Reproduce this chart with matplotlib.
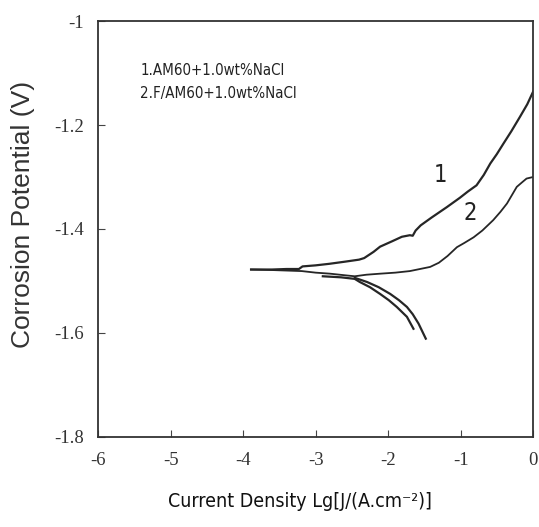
import matplotlib
matplotlib.use("Agg")
import matplotlib.pyplot as plt

plt.rcParams['axes.unicode_minus'] = False

# Data (log current density, potential in V)
# curve 1 : AM60 in 1.0 wt% NaCl
c1_anodic_x = [-3.89, -3.60, -3.40, -3.23, -3.18, -3.00, -2.81, -2.60, -2.40, -2.33,
               -2.20, -2.11, -1.95, -1.81, -1.70, -1.66, -1.62, -1.55, -1.40, -1.19,
               -1.01, -0.90, -0.78, -0.68, -0.59, -0.50, -0.41, -0.30, -0.18, -0.08, 0.00]
c1_anodic_y = [-1.478, -1.478, -1.477, -1.477, -1.472, -1.470, -1.467, -1.463, -1.459, -1.456,
               -1.444, -1.434, -1.424, -1.415, -1.412, -1.413, -1.403, -1.393, -1.378, -1.358,
               -1.340, -1.328, -1.316, -1.296, -1.274, -1.256, -1.236, -1.212, -1.184, -1.160, -1.136]
c1_cathodic_x = [-2.90, -2.65, -2.46, -2.39, -2.25, -2.11, -1.99, -1.88, -1.74, -1.65]
c1_cathodic_y = [-1.491, -1.493, -1.496, -1.502, -1.512, -1.525, -1.537, -1.550, -1.569, -1.592]

# curve 2 : F/AM60 in 1.0 wt% NaCl
c2_anodic_x = [-3.89, -3.60, -3.19, -3.00, -2.80, -2.60, -2.46, -2.30, -2.11, -1.90,
               -1.70, -1.42, -1.30, -1.18, -1.05, -0.95, -0.82, -0.70, -0.55, -0.45,
               -0.36, -0.225, -0.15, -0.09, 0.00]
c2_anodic_y = [-1.478, -1.479, -1.481, -1.484, -1.486, -1.489, -1.491, -1.488, -1.486, -1.484,
               -1.481, -1.473, -1.465, -1.452, -1.435, -1.427, -1.416, -1.403, -1.383, -1.367,
               -1.351, -1.319, -1.310, -1.303, -1.300]
c2_cathodic_x = [-2.46, -2.29, -2.13, -1.97, -1.85, -1.74, -1.66, -1.58, -1.48]
c2_cathodic_y = [-1.494, -1.502, -1.512, -1.525, -1.537, -1.550, -1.564, -1.582, -1.611]

legend_lines = ["1.AM60+1.0wt%NaCl", "2.F/AM60+1.0wt%NaCl"]
x_ticks = [-6, -5, -4, -3, -2, -1, 0]
y_ticks = [-1.8, -1.6, -1.4, -1.2, -1.0]
y_tick_labels = ["-1.8", "-1.6", "-1.4", "-1.2", "-1"]

narrow = dict(family='DejaVu Sans', stretch='condensed')
serif = 'Liberation Serif'

fig = plt.figure(figsize=(5.39, 5.27), dpi=100)
ax = fig.add_axes([0.182, 0.171, 0.807, 0.789])

ink = '#262626'
ax.plot(c1_anodic_x, c1_anodic_y, color=ink, lw=1.6)
ax.plot(c1_cathodic_x, c1_cathodic_y, color=ink, lw=1.6)
ax.plot(c2_anodic_x, c2_anodic_y, color=ink, lw=1.3)
ax.plot(c2_cathodic_x, c2_cathodic_y, color=ink, lw=1.6)

ax.set_xlim(-6, 0)
ax.set_ylim(-1.8, -1.0)
ax.set_xticks(x_ticks)
ax.set_yticks(y_ticks)
ax.set_yticklabels(y_tick_labels)
ax.tick_params(direction='in', length=5, width=0.8, colors='#444444', labelcolor='#333333',
               labelsize=13.5, labelfontfamily=serif)
ax.tick_params(axis='x', pad=11)
ax.tick_params(axis='y', pad=10)

for sp in ax.spines.values():
    sp.set_linewidth(1.3)
    sp.set_color('#333333')

ax.set_ylabel("Corrosion Potential (V)", family='Liberation Sans',
              fontsize=19, color='#333333', va='center')
ax.yaxis.set_label_coords(-0.172, 0.536)
ax.set_xlabel("Current Density Lg[J/(A.cm⁻²)]",
              fontsize=14, color='#111111', va='center', **narrow)
ax.xaxis.set_label_coords(0.464, -0.156)

ax.text(0.097, 0.882, legend_lines[0], transform=ax.transAxes,
        fontsize=10.8, va='center', ha='left', color='#222222', **narrow)
ax.text(0.097, 0.825, legend_lines[1], transform=ax.transAxes,
        fontsize=10.8, va='center', ha='left', color='#222222', **narrow)

ax.text(-1.283, -1.297, "1", fontsize=17, ha='center', va='center', color='#222222', **narrow)
ax.text(-0.869, -1.370, "2", fontsize=17, ha='center', va='center', color='#222222', **narrow)

fig.savefig("out.png", dpi=100)
